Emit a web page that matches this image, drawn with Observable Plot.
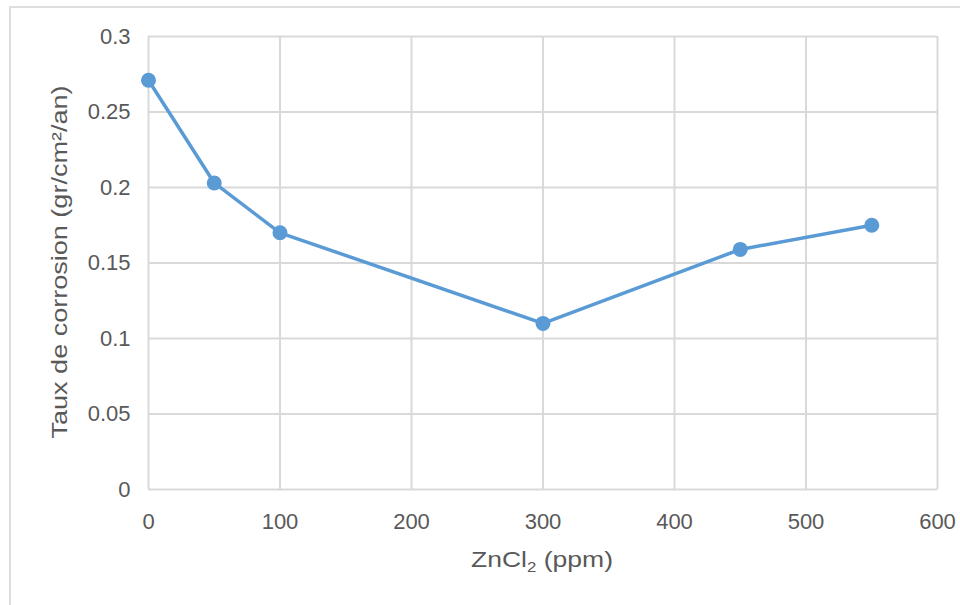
<!DOCTYPE html>
<html>
<head>
<meta charset="utf-8">
<script src="https://cdn.jsdelivr.net/npm/d3@7"></script>
<script src="https://cdn.jsdelivr.net/npm/@observablehq/plot@0.6"></script>
<style>
  html, body { margin: 0; padding: 0; background: #fff; overflow: hidden; }
  #wrap { position: relative; width: 960px; height: 605px; }
  #border { position: absolute; left: 9px; top: 6px; width: 1000px; height: 700px; border: 2px solid #dedede; box-sizing: border-box; }
  #chart { position: absolute; left: 0; top: 0; }
</style>
</head>
<body>
<div id="wrap"><div id="border"></div><div id="chart"></div></div>
<script>
const zncl2 = [0, 50, 100, 300, 450, 550];
const corrosion = [0.271, 0.203, 0.170, 0.110, 0.159, 0.175];
const xTicks = [0, 100, 200, 300, 400, 500, 600];
const yTicks = [0, 0.05, 0.1, 0.15, 0.2, 0.25, 0.3];
const yLabel = "Taux de corrosion (gr/cm²/an)";

const data = zncl2.map((x, i) => ({x, y: corrosion[i]}));
const grid = "#d9d9d9";
const blue = "#5b9bd5";
const fontFam = "'Liberation Sans', Arial, Helvetica, sans-serif";

const plot = Plot.plot({
  width: 960,
  height: 605,
  marginLeft: 148,
  marginRight: 23,
  marginTop: 36,
  marginBottom: 116,
  style: {fontFamily: fontFam, fontSize: "22px", color: "#595959", background: "transparent"},
  x: {domain: [0, 600], ticks: xTicks, label: null},
  y: {domain: [0, 0.3], ticks: yTicks, label: null},
  marks: [
    Plot.gridX(xTicks, {stroke: grid, strokeOpacity: 1, strokeWidth: 2}),
    Plot.gridY(yTicks, {stroke: grid, strokeOpacity: 1, strokeWidth: 2}),
    Plot.axisX({ticks: xTicks, tickSize: 0, tickPadding: 24, fill: "#595959", fontSize: 22, tickFormat: d => String(d)}),
    Plot.axisY({ticks: yTicks, tickSize: 0, tickPadding: 18, fill: "#595959", fontSize: 22, tickFormat: d => String(d)}),
    Plot.line(data, {x: "x", y: "y", stroke: blue, strokeWidth: 3.5}),
    Plot.dot(data, {x: "x", y: "y", r: 7.5, fill: blue, stroke: "none"})
  ]
});
document.getElementById("chart").appendChild(plot);

const svg = d3.select(plot);
svg.append("text")
  .attr("transform", "translate(61,262) rotate(-90)")
  .attr("text-anchor", "middle")
  .attr("dominant-baseline", "middle")
  .attr("fill", "#595959")
  .attr("textLength", 353)
  .attr("lengthAdjust", "spacingAndGlyphs")
  .style("font-size", "22px")
  .style("font-family", fontFam)
  .text(yLabel);

const xl = svg.append("text")
  .attr("x", 542).attr("y", 567)
  .attr("text-anchor", "middle")
  .attr("fill", "#595959")
  .attr("textLength", 142)
  .attr("lengthAdjust", "spacingAndGlyphs")
  .style("font-size", "22px")
  .style("font-family", fontFam);
xl.append("tspan").text("ZnCl");
xl.append("tspan").attr("dy", 5).style("font-size", "14px").text("2");
xl.append("tspan").attr("dy", -5).text(" (ppm)");
</script>
</body>
</html>
